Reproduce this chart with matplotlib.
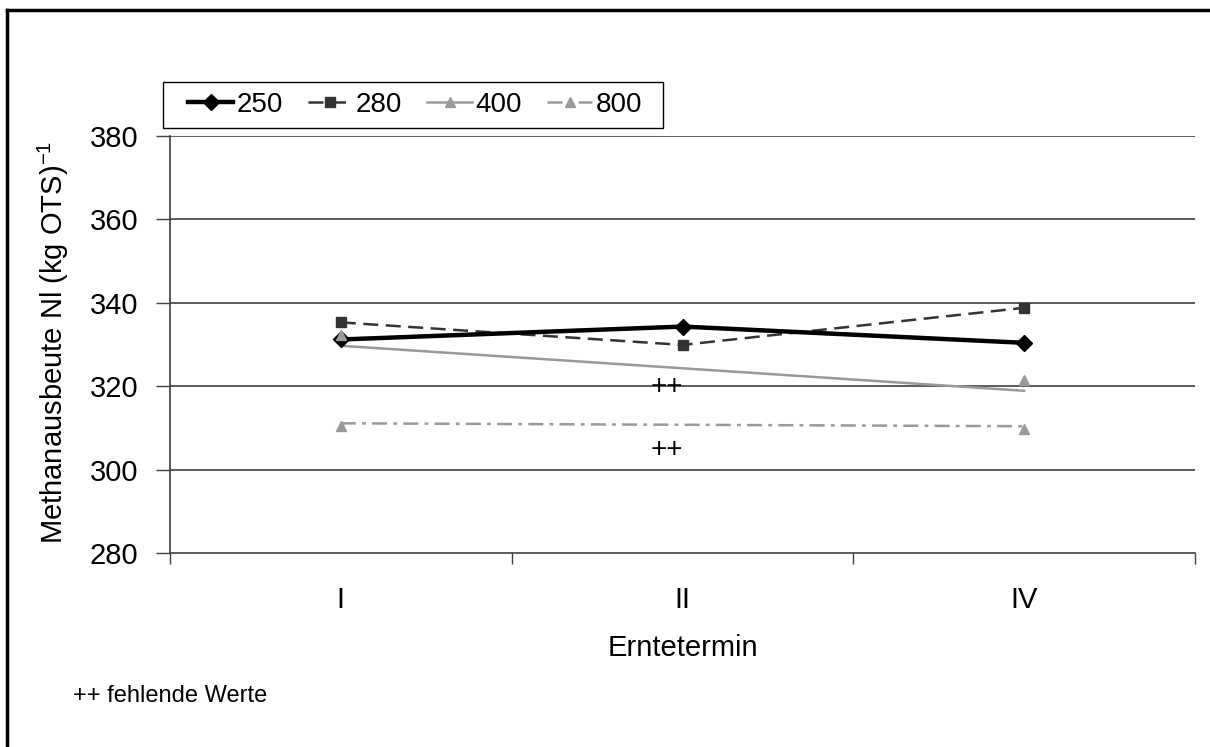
import matplotlib
matplotlib.use("Agg")
import matplotlib.pyplot as plt
from matplotlib.lines import Line2D
from matplotlib.patches import Rectangle

plt.rcParams['font.family'] = ['Liberation Sans', 'DejaVu Sans']
plt.rcParams['mathtext.fontset'] = 'custom'
plt.rcParams['mathtext.rm'] = 'Liberation Sans'

# ---- data ----
categories = ["I", "II", "IV"]
s250 = [331.2, 334.3, 330.4]
s280 = [335.3, 329.9, 338.8]
s400_markers = [332.2, None, 321.6]
s400_line = [329.7, 318.9]          # drawn connector (value II missing)
s800_markers = [310.5, None, 309.7]
s800_line = [311.1, 310.4]          # drawn connector (value II missing)
missing_y = [319.8, 304.6]          # "++" notes at II
series_labels = ["250", "280", "400", "800"]
yticks = [280, 300, 320, 340, 360, 380]

W, H = 1210, 747
fig = plt.figure(figsize=(W / 100, H / 100), dpi=100)
ax = fig.add_axes([170 / W, 1 - 553 / H, (1195 - 170) / W, (553 - 136) / H])

x = list(range(len(categories)))
ends = [x[0], x[-1]]
dash_280 = (0, (6, 3))
dashdot_800 = (0, (6, 2.5, 1.5, 2.5))

ax.plot(x, s250, color='black', lw=3.2, marker='D', ms=8, zorder=5)
ax.plot(x, s280, color='#333333', lw=1.8, ls=dash_280, marker='s', ms=7, zorder=4)
ax.plot(ends, s400_line, color='#999999', lw=1.8, zorder=3)
ax.plot([x[0], x[2]], [s400_markers[0], s400_markers[2]], ls='none', color='#999999',
        marker='^', ms=7, zorder=6)
ax.plot(ends, s800_line, color='#999999', lw=1.8, ls=dashdot_800, zorder=3)
ax.plot([x[0], x[2]], [s800_markers[0], s800_markers[2]], ls='none', color='#999999',
        marker='^', ms=7, zorder=3)

for yv in missing_y:
    ax.text(x[1] - 0.045, yv, "++", ha='center', va='center', fontsize=20, color='black')

ax.set_xlim(-0.5, 2.5)
ax.set_ylim(280, 380)
ax.set_yticks(yticks)
ax.tick_params(axis='y', direction='out', length=10, width=1, color='#404040',
               labelsize=21, pad=13)
ax.set_xticks(x)
ax.set_xticklabels(categories)
ax.set_xticks([-0.5, 0.5, 1.5, 2.5], minor=True)
ax.tick_params(axis='x', which='major', length=0, labelsize=21, pad=24)
ax.tick_params(axis='x', which='minor', direction='out', length=8, width=1, color='#404040')
for y in yticks[1:]:
    ax.axhline(y, color='#404040', lw=1.2, zorder=1)
for s in ['top', 'right']:
    ax.spines[s].set_visible(False)
for s in ['left', 'bottom']:
    ax.spines[s].set_color('#404040')
    ax.spines[s].set_linewidth(1.2)

ax.set_xlabel("Erntetermin", fontsize=21, labelpad=14)
ax.set_ylabel(r"Methanausbeute Nl (kg OTS)$^{\mathregular{-1}}$", fontsize=21)
ax.yaxis.set_label_coords(-0.097, 0.505)

handles = [
    Line2D([], [], color='black', lw=3.2, marker='D', ms=8),
    Line2D([], [], color='#333333', lw=1.8, ls=dash_280, marker='s', ms=7),
    Line2D([], [], color='#999999', lw=1.8, marker='^', ms=7),
    Line2D([], [], color='#999999', lw=1.8, ls=dashdot_800, marker='^', ms=7),
]
leg = fig.legend(handles, series_labels, loc='center left',
                 bbox_to_anchor=(188 / W, 1 - 105 / H), ncol=4, fontsize=20,
                 frameon=False, handlelength=1.62, handletextpad=0.12,
                 columnspacing=0.9, borderpad=0, borderaxespad=0)
fig.add_artist(Rectangle((163 / W, 1 - 128 / H), 500 / W, 46 / H,
                         transform=fig.transFigure, fill=False,
                         edgecolor='black', lw=1.0))

fig.text(73 / W, 1 - 696 / H, "++ fehlende Werte", fontsize=17, va='center', ha='left')

# outer frame (left and top edges visible)
fig.add_artist(Line2D([7 / W, 7 / W], [0, 1 - 10 / H], transform=fig.transFigure,
                      color='black', lw=2.5))
fig.add_artist(Line2D([7 / W, 1], [1 - 10 / H, 1 - 10 / H], transform=fig.transFigure,
                      color='black', lw=2.5))

fig.savefig("out.png", dpi=100)
